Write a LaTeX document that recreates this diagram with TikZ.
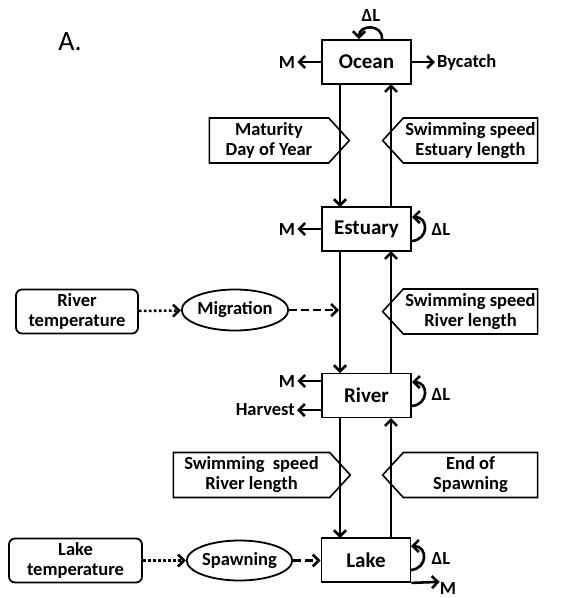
\documentclass[tikz,border=0pt]{standalone}
\usepackage{fontspec}
\setmainfont{Carlito}
\usetikzlibrary{arrows.meta,shapes.geometric,shapes.symbols}
\begin{document}
\begin{tikzpicture}[x=1pt,y=-1pt,
  every node/.style={font=\bfseries\fontsize{18.5}{20}\selectfont, inner sep=0pt, align=center},
  stage/.style={draw, line width=1.8pt, minimum width=89pt, minimum height=44pt, font=\bfseries\fontsize{21}{23}\selectfont},
  tbox/.style={draw, line width=1.8pt, rounded corners=6pt, minimum height=44pt},
  ell/.style={draw, ellipse, line width=1.8pt, minimum width=100pt, minimum height=41pt},
  cright/.style={draw, signal, signal to=east, signal pointer angle=95, line width=1.6pt, minimum height=45pt},
  cleft/.style={draw, signal, signal to=west, signal pointer angle=95, line width=1.6pt, minimum height=45pt},
  flow/.style={line width=2.6pt, -{Straight Barb[length=6pt,width=12pt]}},
  dotflow/.style={flow, dash pattern=on 2.6pt off 2.4pt},
  dashflow/.style={flow, dash pattern=on 8pt off 4pt},
  lbl/.style={font=\bfseries\fontsize{18.5}{20}\selectfont}
]
\useasboundingbox (0,0) rectangle (566,598);

\node[font=\fontsize{28}{30}\selectfont] (A) at (70,42) {A.};

% stages
\node[stage] (ocean) at (366.5,62) {Ocean};
\node[stage] (estuary) at (366.5,229) {Estuary};
\node[stage] (river) at (366.5,395.5) {River};
\node[stage] (lake) at (366,560) {Lake};

% vertical flows
\draw[flow] (340,84) -- (340,207);
\draw[flow] (391,207) -- (391,84);
\draw[flow] (340,251) -- (340,373);
\draw[flow] (391,373) -- (391,251);
\draw[flow] (340,418) -- (340,538);
\draw[flow] (391,538) -- (391,418);

% callouts
\node[cright, minimum width=140pt] (mat) at (269,140.5) {Maturity\\Day of Year};
\node[cleft, minimum width=155pt] (swe) at (470.5,140.5) {Swimming speed\\Estuary length};
\node[cleft, minimum width=155pt] (swr) at (470.5,311.5) {Swimming speed\\River length};
\node[cright, minimum width=177pt] (swl) at (251.5,475) {Swimming\ \ speed\\River length};
\node[cleft, minimum width=155pt] (eos) at (470.5,475) {End of\\Spawning};

% environment drivers
\node[tbox, minimum width=122pt] (rt) at (77,311.5) {River\\temperature};
\node[ell] (mig) at (235,310) {Migration};
\coordinate (migT) at (339,310);
\draw[dotflow] (rt) -- (mig);
\draw[dashflow] (mig) -- (migT);

\node[tbox, minimum width=133pt] (lt) at (75.5,560.5) {Lake\\temperature};
\node[ell, minimum width=101pt, minimum height=40pt] (spw) at (239.5,560.5) {Spawning};
\draw[dotflow] (lt) -- (spw);
\draw[dashflow] (spw) -- (lake.west |- spw);

% outflows
\node[lbl] (mo) at (287,62) {M};
\draw[flow, shorten >=2pt] (ocean.west) -- (mo.east);
\node[lbl, anchor=west] (by) at (437,62) {Bycatch};
\draw[flow, shorten >=2pt] (ocean.east) -- (by.west);

\node[lbl] (me) at (287,229) {M};
\draw[flow, shorten >=2pt] (estuary.west) -- (me.east);

\node[lbl] (mr) at (287,381) {M};
\draw[flow, shorten >=2pt] (river.west |- mr) -- (mr.east);
\node[lbl, anchor=east] (hv) at (295,410) {Harvest};
\draw[flow, shorten >=2pt] (river.west |- hv) -- (hv.east);

\node[lbl] (ml) at (448,588) {M};
\draw[flow] (lake.south east) -- (ml.north west);

% growth loops
\node[lbl] (dlo) at (371,15) {ΔL};
\draw[flow] (382,39) .. controls (383,24) and (359,24) .. (359,39);
\node[lbl] (dle) at (441,229) {ΔL};
\draw[flow] (411.5,241) .. controls (429,240) and (429,217) .. (412,217);
\node[lbl] (dlr) at (441,394) {ΔL};
\draw[flow] (411.5,406) .. controls (429,405) and (429,382) .. (412,382);
\node[lbl] (dll) at (441,558) {ΔL};
\draw[flow] (410.5,570) .. controls (428,569) and (428,546) .. (411,546);
\end{tikzpicture}
\end{document}
